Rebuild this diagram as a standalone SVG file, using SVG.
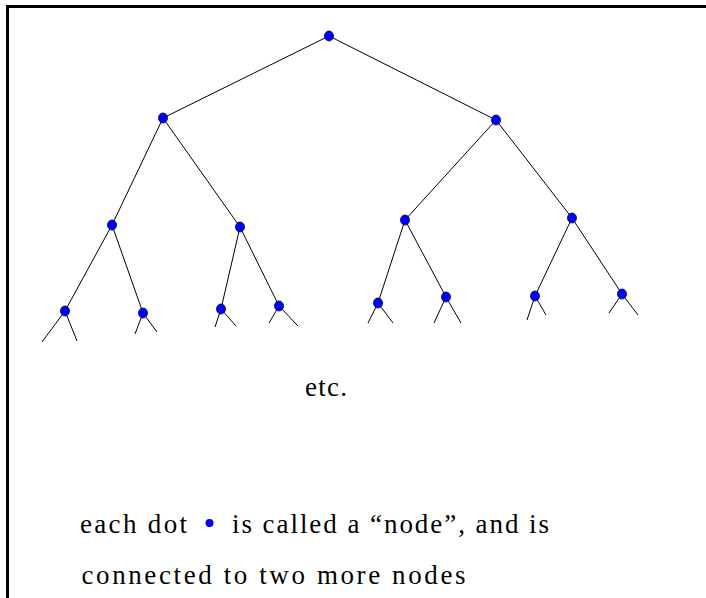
<svg xmlns="http://www.w3.org/2000/svg" width="706" height="598" viewBox="0 0 706 598">
  <style>
    .edge { stroke: #000; stroke-width: 1; fill: none; }
    .node { fill: #0000ff; stroke: #000040; stroke-width: 0.8; }
    .frame { stroke: #000; stroke-width: 3; fill: none; }
  </style>
  <rect width="706" height="598" fill="#fff"/>

  <!-- frame: top and left rule -->
  <g id="frame">
    <line class="frame" x1="6" y1="6.5" x2="706" y2="6.5"/>
    <line class="frame" x1="7.5" y1="5" x2="7.5" y2="598"/>
  </g>

  <!-- tree edges -->
  <g id="connectors">
    <path class="edge" d="M329,36 L163,118 M329,36 L496,120"/>
    <path class="edge" d="M163,118 L112,225 M163,118 L240,227"/>
    <path class="edge" d="M496,120 L405,220 M496,120 L572,218"/>
    <path class="edge" d="M112,225 L65,311 M112,225 L143,313"/>
    <path class="edge" d="M240,227 L221,309 M240,227 L279,306"/>
    <path class="edge" d="M405,220 L378,303 M405,220 L446,297"/>
    <path class="edge" d="M572,218 L535,296 M572,218 L622,294"/>
    <!-- open-ended stubs below the bottom row -->
    <path class="edge" d="M65,311 L42,342 M65,311 L77,341"/>
    <path class="edge" d="M143,313 L135,334 M143,313 L157,332"/>
    <path class="edge" d="M221,309 L215,327 M221,309 L236,326"/>
    <path class="edge" d="M279,306 L269,323 M279,306 L298,326"/>
    <path class="edge" d="M378,303 L368,323 M378,303 L393,323"/>
    <path class="edge" d="M446,297 L434,323 M446,297 L461,323"/>
    <path class="edge" d="M535,296 L527,320 M535,296 L546,315"/>
    <path class="edge" d="M622,294 L609,313 M622,294 L638,315"/>
  </g>

  <!-- nodes -->
  <g id="n0"><ellipse class="node" cx="329" cy="36" rx="4.5" ry="5"/></g>
  <g id="n1"><ellipse class="node" cx="163" cy="118" rx="4.5" ry="5"/></g>
  <g id="n2"><ellipse class="node" cx="496" cy="120" rx="4.5" ry="5"/></g>
  <g id="n3"><ellipse class="node" cx="112" cy="225" rx="4.5" ry="5"/></g>
  <g id="n4"><ellipse class="node" cx="240" cy="227" rx="4.5" ry="5"/></g>
  <g id="n5"><ellipse class="node" cx="405" cy="220" rx="4.5" ry="5"/></g>
  <g id="n6"><ellipse class="node" cx="572" cy="218" rx="4.5" ry="5"/></g>
  <g id="n7"><ellipse class="node" cx="65" cy="311" rx="4.5" ry="5"/></g>
  <g id="n8"><ellipse class="node" cx="143" cy="313" rx="4.5" ry="5"/></g>
  <g id="n9"><ellipse class="node" cx="221" cy="309" rx="4.5" ry="5"/></g>
  <g id="n10"><ellipse class="node" cx="279" cy="306" rx="4.5" ry="5"/></g>
  <g id="n11"><ellipse class="node" cx="378" cy="303" rx="4.5" ry="5"/></g>
  <g id="n12"><ellipse class="node" cx="446" cy="297" rx="4.5" ry="5"/></g>
  <g id="n13"><ellipse class="node" cx="535" cy="296" rx="4.5" ry="5"/></g>
  <g id="n14"><ellipse class="node" cx="622" cy="294" rx="4.5" ry="5"/></g>

  <!-- captions -->
  <g id="captions" font-family="'Liberation Serif', 'Times New Roman', serif" font-size="27" fill="#000">
    <text x="305" y="396" textLength="42" lengthAdjust="spacing">etc.</text>
    <text x="80" y="533" textLength="107" lengthAdjust="spacing">each dot</text>
    <circle cx="209.5" cy="523" r="4" fill="#0000ff"/>
    <text x="232" y="533" textLength="317" lengthAdjust="spacing">is called a “node”, and is</text>
    <text x="81.5" y="584" textLength="384" lengthAdjust="spacing">connected to two more nodes</text>
  </g>
</svg>
